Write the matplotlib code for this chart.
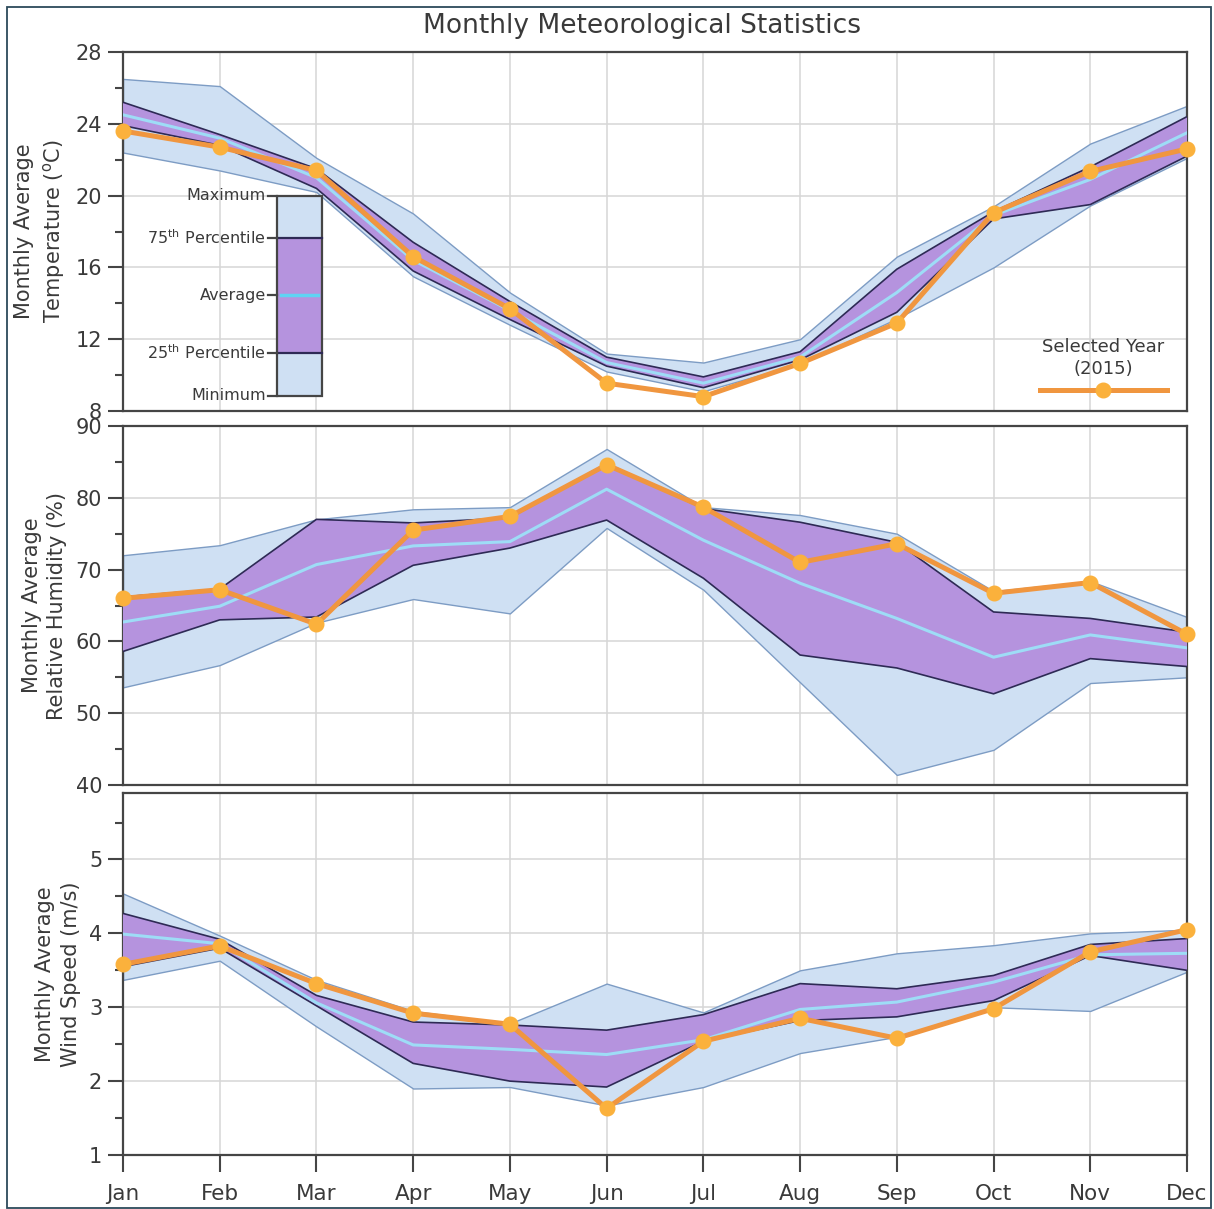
import numpy as np
import matplotlib
matplotlib.use("Agg")
import matplotlib.pyplot as plt
from matplotlib.patches import Rectangle
from matplotlib.lines import Line2D
from matplotlib.ticker import MultipleLocator

plt.rcParams['font.family'] = ['DejaVu Sans']
plt.rcParams['mathtext.fontset'] = 'dejavusans'

months = ["Jan", "Feb", "Mar", "Apr", "May", "Jun", "Jul", "Aug", "Sep", "Oct", "Nov", "Dec"]

# Temperature (ºC)
temp_max = [26.5, 26.1, 22.1, 19.0, 14.6, 11.2, 10.7, 12.0, 16.6, 19.4, 22.9, 25.0]
temp_p75 = [25.2, 23.4, 21.5, 17.4, 14.1, 11.0, 9.9, 11.3, 15.9, 19.1, 21.6, 24.4]
temp_avg = [24.5, 23.2, 21.0, 16.4, 13.6, 10.7, 9.55, 11.0, 14.6, 18.9, 20.9, 23.5]
temp_p25 = [23.9, 22.8, 20.4, 15.8, 13.1, 10.5, 9.3, 10.85, 13.5, 18.7, 19.5, 22.2]
temp_min = [22.4, 21.4, 20.2, 15.5, 12.8, 10.2, 9.1, 10.65, 13.15, 16.0, 19.45, 22.1]
temp_sel = [23.6, 22.7, 21.4, 16.6, 13.7, 9.55, 8.8, 10.65, 12.9, 19.05, 21.35, 22.6]

# Relative humidity (%)
hum_max = [72.0, 73.4, 77.0, 78.4, 78.7, 86.8, 78.7, 77.6, 75.0, 67.0, 68.4, 63.4]
hum_p75 = [66.2, 67.3, 77.0, 76.5, 77.2, 84.8, 78.5, 76.6, 73.8, 64.1, 63.2, 61.3]
hum_avg = [62.7, 64.9, 70.7, 73.3, 73.9, 81.2, 74.1, 68.1, 63.2, 57.8, 60.9, 59.1]
hum_p25 = [58.6, 63.0, 63.4, 70.6, 73.0, 76.9, 68.8, 58.1, 56.3, 52.7, 57.6, 56.5]
hum_min = [53.6, 56.7, 62.6, 65.9, 63.9, 75.8, 67.2, 54.3, 41.4, 44.9, 54.2, 55.0]
hum_sel = [66.0, 67.2, 62.4, 75.5, 77.4, 84.6, 78.7, 71.0, 73.6, 66.7, 68.2, 61.0]

# Wind speed (m/s)
wind_max = [4.54, 3.97, 3.37, 2.95, 2.78, 3.32, 2.93, 3.50, 3.73, 3.84, 4.00, 4.05]
wind_p75 = [4.27, 3.92, 3.16, 2.80, 2.76, 2.69, 2.90, 3.32, 3.25, 3.43, 3.85, 3.93]
wind_avg = [3.99, 3.86, 3.06, 2.49, 2.43, 2.36, 2.56, 2.97, 3.07, 3.34, 3.71, 3.73]
wind_p25 = [3.55, 3.80, 3.02, 2.24, 2.00, 1.92, 2.54, 2.82, 2.87, 3.09, 3.70, 3.50]
wind_min = [3.37, 3.63, 2.74, 1.90, 1.92, 1.67, 1.92, 2.38, 2.60, 3.00, 2.95, 3.48]
wind_sel = [3.58, 3.83, 3.32, 2.92, 2.77, 1.63, 2.54, 2.85, 2.58, 2.98, 3.75, 4.05]

LB = '#cfe0f3'
LBE = '#7d9cc4'
PUR = '#b593de'
DARK = '#2e2a55'
CYAN = '#9edcf6'
ORL = '#f0963f'
ORM = '#fbb13c'
TXT = '#3a3a3a'
SPINE = '#454545'

W_PX, H_PX = 1214, 1209
fig = plt.figure(figsize=(W_PX / 100, H_PX / 100), dpi=100)
fig.patch.set_facecolor('white')

L = 123 / W_PX
Wd = 1064 / W_PX
ax1 = fig.add_axes([L, 1 - 411 / H_PX, Wd, 359 / H_PX])
ax2 = fig.add_axes([L, 1 - 785 / H_PX, Wd, 359 / H_PX])
ax3 = fig.add_axes([L, 1 - 1155 / H_PX, Wd, 362 / H_PX])

x = np.arange(len(months))


def draw_panel(ax, mx, p75, avg, p25, mn, sel):
    ax.fill_between(x, mn, mx, facecolor=LB, edgecolor=LBE, lw=1.0, zorder=2)
    ax.fill_between(x, p25, p75, facecolor=PUR, edgecolor='none', zorder=3)
    ax.plot(x, p75, color=DARK, lw=1.2, zorder=4)
    ax.plot(x, p25, color=DARK, lw=1.2, zorder=4)
    ax.plot(x, avg, color=CYAN, lw=2.2, zorder=5)
    ax.plot(x, sel, color=ORL, lw=3.6, marker='o', ms=10.5, mfc=ORM, mec=ORM,
            zorder=6, clip_on=False)
    ax.set_xlim(0, 11)
    ax.set_xticks(x)
    ax.grid(True, which='major', color='#d6d6d6', lw=1.1, zorder=0)
    ax.set_axisbelow(True)
    for s in ax.spines.values():
        s.set_color(SPINE)
        s.set_linewidth(1.6)
    ax.tick_params(axis='y', which='major', length=11, width=1.5, color=SPINE,
                   labelsize=15, labelcolor=TXT, pad=4)
    ax.tick_params(axis='y', which='minor', length=6, width=1.5, color=SPINE)


draw_panel(ax1, temp_max, temp_p75, temp_avg, temp_p25, temp_min, temp_sel)
draw_panel(ax2, hum_max, hum_p75, hum_avg, hum_p25, hum_min, hum_sel)
draw_panel(ax3, wind_max, wind_p75, wind_avg, wind_p25, wind_min, wind_sel)

ax1.set_ylim(8, 28)
ax1.yaxis.set_major_locator(MultipleLocator(4))
ax1.yaxis.set_minor_locator(MultipleLocator(2))
ax2.set_ylim(40, 90)
ax2.yaxis.set_major_locator(MultipleLocator(10))
ax2.yaxis.set_minor_locator(MultipleLocator(5))
ax3.set_ylim(1, 5.9)
ax3.set_yticks([1, 2, 3, 4, 5])
ax3.yaxis.set_minor_locator(MultipleLocator(0.5))

for ax in (ax1, ax2):
    ax.tick_params(axis='x', which='both', length=0, labelbottom=False)
ax3.set_xticklabels(months)
ax3.tick_params(axis='x', which='major', length=12, width=1.5, color=SPINE,
                labelsize=15.5, labelcolor=TXT, pad=9)

lab_kw = dict(fontsize=15, color=TXT, linespacing=1.35, labelpad=6)
ax1.set_ylabel("Monthly Average\nTemperature ($^{\\mathrm{o}}$C)", **lab_kw)
ax2.set_ylabel("Monthly Average\nRelative Humidity (%)", **lab_kw)
ax3.set_ylabel("Monthly Average\nWind Speed (m/s)", **lab_kw)

# Box legend inside the temperature panel
bx0, bx1 = (277 - 123) / 1064, (322 - 123) / 1064
y_max, y_75, y_avg, y_25, y_min = 0.599, 0.482, 0.323, 0.162, 0.042
T = ax1.transAxes
ax1.add_patch(Rectangle((bx0, y_min), bx1 - bx0, y_max - y_min, transform=T,
                        facecolor=LB, edgecolor='none', zorder=7))
ax1.add_patch(Rectangle((bx0, y_25), bx1 - bx0, y_75 - y_25, transform=T,
                        facecolor=PUR, edgecolor='none', zorder=8))
ax1.add_line(Line2D([bx0 + 0.004, bx1 - 0.004], [y_avg, y_avg], transform=T,
                    color='#5fd3f3', lw=2.5, zorder=9))
ax1.add_patch(Rectangle((bx0, y_min), bx1 - bx0, y_max - y_min, transform=T,
                        facecolor='none', edgecolor=SPINE, lw=1.6, zorder=10))
for yy in (y_75, y_25):
    ax1.add_line(Line2D([bx0, bx1], [yy, yy], transform=T, color=DARK, lw=1.6, zorder=10))
tick_x0 = (268 - 123) / 1064
labels = [(y_max, "Maximum"), (y_75, "75$^{\\mathrm{th}}$ Percentile"),
          (y_avg, "Average"), (y_25, "25$^{\\mathrm{th}}$ Percentile"), (y_min, "Minimum")]
for yy, txt in labels:
    ax1.add_line(Line2D([tick_x0, bx0], [yy, yy], transform=T, color=SPINE, lw=1.6, zorder=10))
    ax1.text(tick_x0 - 0.002, yy, txt, transform=T, ha='right', va='center',
             fontsize=11.5, color=TXT, zorder=10)

# Selected-year legend
cx = (1103 - 123) / 1064
ax1.text(cx, (411 - 347) / 359, "Selected Year", transform=T, ha='center', va='center',
         fontsize=13, color=TXT, zorder=10)
ax1.text(cx, (411 - 369) / 359, "(2015)", transform=T, ha='center', va='center',
         fontsize=13, color=TXT, zorder=10)
ly = (411 - 390) / 359
ax1.add_line(Line2D([(1040 - 123) / 1064, (1167 - 123) / 1064], [ly, ly], transform=T,
                    color=ORL, lw=3.6, zorder=10))
ax1.add_line(Line2D([cx], [ly], transform=T, marker='o', ms=10.5, mfc=ORM, mec=ORM,
                    lw=0, zorder=11))

fig.text(642 / W_PX, 1 - 26 / H_PX, "Monthly Meteorological Statistics",
         ha='center', va='center', fontsize=19, color=TXT)

fig.add_artist(Rectangle((7 / W_PX, 0.001), (1211 - 7) / W_PX, 1 - 7 / H_PX - 0.001,
                         transform=fig.transFigure, facecolor='none',
                         edgecolor='#2c4a5a', lw=1.3))

fig.savefig("out.png", dpi=100, facecolor='white')
